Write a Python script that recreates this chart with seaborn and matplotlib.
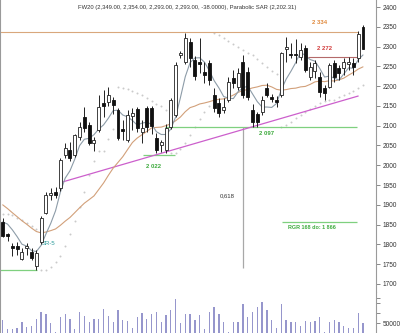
import numpy as np
import pandas as pd
import matplotlib
matplotlib.use("Agg")
import matplotlib.pyplot as plt
import seaborn as sns
from matplotlib.ticker import FixedLocator

sns.set_theme(style="white")
plt.rcParams['font.family'] = ['Liberation Sans Narrow', 'Liberation Sans', 'DejaVu Sans']

# ---------------- data ----------------
opens = [1857, 1826, 1796, 1796, 1763, 1792, 1781, 1745, 1806, 1880,
         1926, 1932, 1942, 2026, 2039, 2026, 2071, 2122, 2102, 2056,
         2089, 2157, 2160, 2165, 2140, 2092, 2064, 2125, 2142, 2084,
         2145, 2145, 2069, 2051, 2039, 2097, 2127, 2279, 2261, 2312,
         2266, 2262, 2236, 2258, 2178, 2157, 2140, 2165, 2221, 2198,
         2261, 2236, 2140, 2130, 2135, 2195, 2172, 2165, 2178, 2293,
         2280, 2282, 2274, 2296, 2223, 2238, 2223, 2195, 2198, 2258,
         2246, 2246, 2256, 2258, 2271, 2349]
highs = [1867, 1830, 1803, 1805, 1790, 1803, 1790, 1786, 1873, 1933,
         1943, 1945, 2018, 2056, 2060, 2080, 2110, 2147, 2110, 2071,
         2177, 2190, 2197, 2172, 2145, 2114, 2140, 2145, 2147, 2114,
         2150, 2150, 2081, 2064, 2104, 2170, 2260, 2290, 2334, 2322,
         2275, 2322, 2261, 2266, 2195, 2170, 2170, 2223, 2241, 2246,
         2279, 2248, 2155, 2135, 2175, 2208, 2180, 2175, 2287, 2324,
         2309, 2320, 2309, 2304, 2261, 2266, 2236, 2203, 2258, 2266,
         2253, 2271, 2274, 2271, 2340, 2354]
lows = [1819, 1808, 1770, 1772, 1760, 1772, 1761, 1735, 1800, 1878,
        1912, 1917, 1935, 2018, 2012, 2020, 2063, 2084, 2050, 2035,
        2084, 2122, 2150, 2130, 2064, 2064, 2060, 2089, 2084, 2056,
        2084, 2080, 2031, 2033, 2031, 2092, 2122, 2270, 2256, 2249,
        2215, 2232, 2208, 2203, 2135, 2122, 2132, 2160, 2195, 2190,
        2170, 2165, 2097, 2097, 2128, 2173, 2160, 2147, 2173, 2261,
        2271, 2258, 2266, 2236, 2216, 2221, 2173, 2165, 2195, 2210,
        2216, 2228, 2241, 2228, 2260, 2293]
closes = [1821, 1822, 1790, 1789, 1781, 1796, 1766, 1778, 1867, 1925,
          1930, 1925, 2013, 2044, 2018, 2076, 2097, 2094, 2056, 2064,
          2147, 2150, 2178, 2152, 2069, 2086, 2127, 2132, 2094, 2094,
          2097, 2100, 2039, 2059, 2094, 2165, 2254, 2284, 2322, 2271,
          2225, 2257, 2228, 2216, 2145, 2132, 2147, 2210, 2208, 2233,
          2178, 2173, 2110, 2110, 2165, 2178, 2168, 2160, 2284, 2298,
          2278, 2278, 2291, 2241, 2248, 2258, 2185, 2183, 2253, 2223,
          2233, 2261, 2261, 2248, 2331, 2293]
volumes = [65000, 20000, 21500, 25000, 56500, 31500, 36500, 68500, 103500, 95000,
           51500, 5000, 78500, 95000, 68500, 18500, 103500, 86500, 53500, 68500,
           70000, 120000, 86500, 53500, 115000, 65000, 61500, 26500, 78500, 98500,
           70000, 95000, 103500, 53500, 90000, 115000, 170000, 48500, 95000, 95000,
           65000, 90000, 18500, 106500, 128500, 95000, 56500, 6500, 53500, 53500,
           145000, 78500, 103500, 128500, 156500, 115000, 65000, 23500, 145000, 65000,
           56500, 53500, 36500, 60000, 53500, 60000, 81500, 6500, 53500, 65000,
           56500, 36500, 23500, 23500, 98500, 48500]
# closes before the visible window (needed by the moving averages)
pre_close = [2010, 2000, 1990, 1985, 1975, 1960, 1950, 1938,
             1880, 1860, 1840, 1830, 1835, 1830, 1833,
             1850, 1862, 1875, 1877]

title = "FW20 (2,349.00, 2,354.00, 2,293.00, 2,293.00, -38.0000), Parabolic SAR (2,202.31)"

# annotation levels: price, x from, x to
res_2334 = [2337, -0.6, 74.0]
res_2272 = [2274, 63.5, 74.0]
sup_2097 = [2097, 33.8, 73.8]
sup_2022 = [2026, 29.2, 35.9]
sup_1737 = [1736, -0.6, 7.1]
rgr_1866 = [1857, 58.1, 73.8]
trend_x = [12.5, 74.0]
trend_y = [1958, 2175]
fib_x = 50.1
fib_y = [2097, 1740]

price_ticks = list(range(1700, 2401, 50))

# ---------------- derived series ----------------
n = len(closes)
k = np.arange(n)
allc = pd.Series(pre_close + closes, dtype=float)
ma5 = allc.rolling(5).mean().values[len(pre_close):]
ma20 = allc.rolling(20).mean().values[len(pre_close):]


def psar(high, low, start, af0=0.02, afmax=0.2):
    high = np.asarray(high, float)
    low = np.asarray(low, float)
    sar = np.zeros(len(high))
    trend = -1
    ep = low[0]
    af = af0
    sar[0] = start
    for i in range(1, len(high)):
        s = sar[i - 1] + af * (ep - sar[i - 1])
        if trend == 1:
            s = min(s, low[i - 1], low[max(i - 2, 0)])
            if low[i] < s:
                trend, s, ep, af = -1, ep, low[i], af0
            elif high[i] > ep:
                ep = high[i]
                af = min(af + af0, afmax)
        else:
            s = max(s, high[i - 1], high[max(i - 2, 0)])
            if high[i] > s:
                trend, s, ep, af = 1, ep, high[i], af0
            elif low[i] < ep:
                ep = low[i]
                af = min(af + af0, afmax)
        sar[i] = s
    return sar


sar = psar(highs, lows, start=max(pre_close[-4:]))

# ---------------- figure ----------------
W, H = 400, 333
fig = plt.figure(figsize=(4.0, 3.33), dpi=100)
fig.patch.set_facecolor("white")

xmin = -2.7 / 4.804
xmax = xmin + 376 / 4.804

ax = fig.add_axes([0, 1 - 292 / H, 376 / W, 292 / H])
axv = fig.add_axes([0, 0, 376 / W, 41 / H])

for a in (ax, axv):
    a.set_facecolor("white")
    a.set_xlim(xmin, xmax)
    for s in ("top", "bottom"):
        a.spines[s].set_visible(False)
    for s in ("left", "right"):
        a.spines[s].set_color("#9a9a9a")
        a.spines[s].set_linewidth(0.8)
    a.yaxis.tick_right()
    a.tick_params(axis="y", which="both", direction="out", length=3, width=0.6,
                  color="#777777", labelsize=4.7, labelcolor="#333333", pad=1.5)
    a.tick_params(axis="x", bottom=False, labelbottom=False)
    a.grid(False)

ax.set_ylim(2400 - 285 / 0.3957, 2400 + 7 / 0.3957)
ax.yaxis.set_major_locator(FixedLocator(price_ticks))
ax.set_yticklabels([str(t) for t in price_ticks])

# Parabolic SAR dots
sns.scatterplot(x=k, y=sar, ax=ax, s=2.0, color="#cacaca", linewidth=0, zorder=1, legend=False)

# horizontal levels
ax.hlines(res_2334[0], res_2334[1], res_2334[2], color="#d9a77c", lw=0.8, zorder=2)
ax.hlines(res_2272[0], res_2272[1], res_2272[2], color="#b46a6a", lw=0.8, zorder=2)
ax.hlines(sup_2097[0], sup_2097[1], sup_2097[2], color="#7fd07f", lw=0.9, zorder=2)
ax.hlines(sup_2022[0], sup_2022[1], sup_2022[2], color="#7fd07f", lw=0.9, zorder=2)
ax.hlines(sup_1737[0], sup_1737[1], sup_1737[2], color="#7fd07f", lw=0.9, zorder=2)
ax.hlines(rgr_1866[0], rgr_1866[1], rgr_1866[2], color="#7fd07f", lw=0.9, zorder=2)
ax.vlines(fib_x, fib_y[1], fib_y[0], color="#a8a8a8", lw=0.9, zorder=2)

# trend line
sns.lineplot(x=trend_x, y=trend_y, ax=ax, color="#cc5fcc", lw=0.9, zorder=2)

# moving averages
sns.lineplot(x=k, y=ma20, ax=ax, color="#d2a07a", lw=0.8, zorder=3)
sns.lineplot(x=k, y=ma5, ax=ax, color="#8d9ca8", lw=0.8, zorder=3)

# candles
o = np.array(opens, float)
c = np.array(closes, float)
up = c >= o
ax.vlines(k, lows, highs, color="#222222", lw=0.7, zorder=4)
body_lo = np.minimum(o, c)
body_h = np.maximum(np.abs(c - o), 2.0)
ax.bar(k[up], body_h[up], bottom=body_lo[up], width=0.62, color="white",
       edgecolor="#222222", linewidth=0.6, zorder=5)
ax.bar(k[~up], body_h[~up], bottom=body_lo[~up], width=0.62, color="#111111",
       edgecolor="#111111", linewidth=0.6, zorder=5)

# labels
lab = dict(fontsize=4.3, ha="center", va="center", fontweight="bold")
ax.text(66.0, 2362, "2 334", color="#e0883a", **lab)
ax.text(66.9, 2296, "2 272", color="#d23a3a", **lab)
ax.text(55.0, 2080, "2 097", color="#3caa3c", **lab)
ax.text(31.3, 1998, "2 022", color="#3caa3c", **lab)
ax.text(46.7, 1922, "0,618", color="#333333", fontsize=4.3, ha="center", va="center")
ax.text(64.4, 1842, "RGR 168 do: 1 866", color="#3caa3c", fontsize=3.9, ha="center",
        va="center", fontweight="bold")
ax.text(8.2, 1803, "SR-5", color="#2a9a9a", fontsize=4.3, ha="left", va="center")

fig.text(187 / W, 1 - 8 / H, title, ha="center", va="center", fontsize=4.2, color="#333333")

# volume
axv.set_ylim(0, 205000)
sns.barplot(x=k, y=volumes, ax=axv, native_scale=True, width=0.27, color="#9696cc",
            saturation=1, linewidth=0, errorbar=None)
axv.set_xlim(xmin, xmax)
axv.set_xlabel("")
axv.set_ylabel("")
axv.yaxis.set_major_locator(FixedLocator([50000]))
axv.set_yticklabels(["50000"])
axv.yaxis.set_minor_locator(FixedLocator([100000, 150000, 175000]))
axv.tick_params(axis="x", bottom=False, labelbottom=False)
ax.set_xlabel("")
ax.set_ylabel("")

fig.savefig("out.png", dpi=100, facecolor="white")
